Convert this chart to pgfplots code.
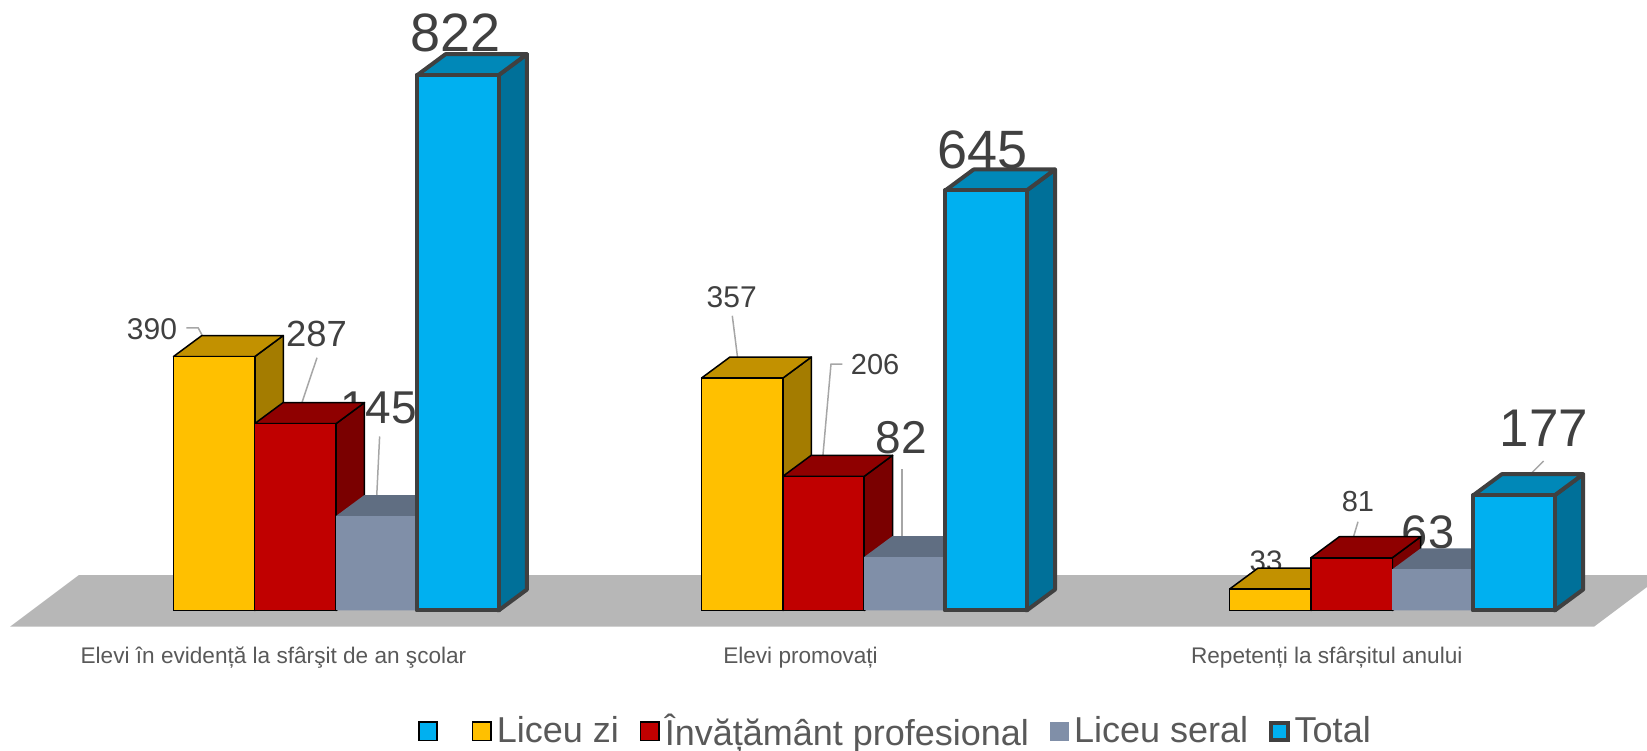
\documentclass[border=0pt]{standalone}
\usepackage{pgfplots}
\pgfplotsset{compat=1.18}
\usepackage{pgfplotstable}
\usepackage{fontspec}
\setmainfont{Liberation Sans}

\definecolor{cyel}{HTML}{FFC000}
\definecolor{cyelT}{HTML}{C29100}
\definecolor{cyelS}{HTML}{A47C00}
\definecolor{cred}{HTML}{C00000}
\definecolor{credT}{HTML}{8F0000}
\definecolor{credS}{HTML}{7A0000}
\definecolor{cgry}{HTML}{808FA8}
\definecolor{cgryT}{HTML}{606E82}
\definecolor{cgryS}{HTML}{56637A}
\definecolor{cblu}{HTML}{00B0F0}
\definecolor{cbluT}{HTML}{0088B8}
\definecolor{cbluS}{HTML}{007099}
\definecolor{cedge}{HTML}{404040}
\definecolor{cfloor}{HTML}{B7B7B7}
\definecolor{ctext}{HTML}{404040}
\definecolor{clab}{HTML}{595959}
\definecolor{clead}{HTML}{A6A6A6}

\pgfplotstableread{
g zi prof seral total
0 390 287 145 822
1 357 206 82 645
2 33 81 63 177
}\datatable

% 3D bar (side, top and front faces), drawn as a mark at the top centre of the bar
\newcommand\defprism[7]{%
 \pgfdeclareplotmark{#1}{%
  \begingroup
  \pgfkeys{/pgf/fpu=false}%
  \pgfmathsetmacro\prismh{\barval*0.3256}%
  \pgfsetlinewidth{#5}\pgfsetroundjoin
  \pgfsetstrokecolor{#4}%
  \pgfsetfillcolor{#3}%
  \pgfpathmoveto{\pgfpoint{20.35pt}{0pt}}%
  \pgfpathlineto{\pgfpoint{34.55pt}{10.5pt}}%
  \pgfpathlineto{\pgfpoint{34.55pt}{10.5pt-\prismh pt}}%
  \pgfpathlineto{\pgfpoint{20.35pt}{-\prismh pt}}%
  \pgfpathclose
  \pgfusepath{#6}%
  \pgfsetfillcolor{#2}%
  \pgfpathmoveto{\pgfpoint{-20.35pt}{0pt}}%
  \pgfpathlineto{\pgfpoint{20.35pt}{0pt}}%
  \pgfpathlineto{\pgfpoint{34.55pt}{10.5pt}}%
  \pgfpathlineto{\pgfpoint{-6.15pt}{10.5pt}}%
  \pgfpathclose
  \pgfusepath{#6}%
  \pgfsetfillcolor{#7}%
  \pgfpathmoveto{\pgfpoint{-20.35pt}{0pt}}%
  \pgfpathlineto{\pgfpoint{20.35pt}{0pt}}%
  \pgfpathlineto{\pgfpoint{20.35pt}{-\prismh pt}}%
  \pgfpathlineto{\pgfpoint{-20.35pt}{-\prismh pt}}%
  \pgfpathclose
  \pgfusepath{#6}%
  \endgroup
 }}
\defprism{prismY}{cyelT}{cyelS}{black}{0.75pt}{fill,stroke}{cyel}
\defprism{prismR}{credT}{credS}{black}{0.75pt}{fill,stroke}{cred}
\defprism{prismG}{cgryT}{cgryS}{black}{0pt}{fill}{cgry}
\defprism{prismB}{cbluT}{cbluS}{cedge}{2pt}{fill,stroke}{cblu}

\pgfplotsset{
  faces/.style={scatter, only marks, mark=#1, forget plot,
    visualization depends on={rawy \as \barval},
    scatter/@pre marker code/.code={}, scatter/@post marker code/.code={}},
  front/.style={ybar, bar width=0.1541, forget plot, line join=round},
}
\newcommand\vlab[4]{\node[text=ctext, inner sep=0pt, anchor=base,
  font=\fontsize{#1pt}{#1pt}\selectfont] at (axis cs:#2,#3) {#4};}

\begin{document}
\begin{tikzpicture}
\useasboundingbox (0,0) rectangle (823.5pt,375pt);
\begin{axis}[
  at={(0pt,0pt)}, anchor=south west,
  x=264.05pt, y=0.3256pt,
  xmin=-0.63625, xmax=2.48248, ymin=-214.22, ymax=937.5,
  hide axis, clip=false,
  legend style={at={(0.2538,0.0248)}, anchor=west, draw=none, fill=none,
    inner sep=0pt, outer sep=0pt, legend columns=-1,
    font=\fontsize{18pt}{20pt}\selectfont, text=clab,
    nodes={inner sep=2.5pt},
    /tikz/every even column/.append style={column sep=8pt}},
  legend cell align=left,
]
% floor
\addplot[fill=cfloor, draw=none, forget plot] coordinates
  {(-0.6173,-24.9) (2.382,-24.9) (2.5128,54.5) (-0.4867,54.5) (-0.6173,-24.9)};

% front faces (plain bars)
\addplot[front, bar shift=-0.2307, fill=cyel, draw=black, line width=0.75pt]
  table[x=g, y=zi] {\datatable};
\addplot[front, bar shift=-0.0769, fill=cred, draw=black, line width=0.75pt]
  table[x=g, y=prof] {\datatable};
\addplot[front, bar shift=0.0769, fill=cgry, draw=none]
  table[x=g, y=seral] {\datatable};
\addplot[front, bar shift=0.2307, fill=cblu, draw=cedge, line width=2pt]
  table[x=g, y=total] {\datatable};

% 3D bars, left to right
\addplot[faces=prismY] table[x expr=\thisrow{g}-0.2307, y=zi] {\datatable};
\addplot[faces=prismR] table[x expr=\thisrow{g}-0.0769, y=prof] {\datatable};
\addplot[faces=prismG] table[x expr=\thisrow{g}+0.0769, y=seral] {\datatable};
\addplot[faces=prismB] table[x expr=\thisrow{g}+0.2307, y=total] {\datatable};

% legend
\addlegendimage{legend image code/.code={\draw[fill=cblu,draw=black,line width=0.75pt] (0pt,-4.6pt) rectangle (9.2pt,4.6pt);}}
\addlegendentry{\hspace*{4pt}}
\addlegendimage{legend image code/.code={\draw[fill=cyel,draw=black,line width=0.75pt] (0pt,-4.6pt) rectangle (9.2pt,4.6pt);}}
\addlegendentry{Liceu zi}
\addlegendimage{legend image code/.code={\draw[fill=cred,draw=black,line width=0.75pt] (0pt,-4.6pt) rectangle (9.2pt,4.6pt);}}
\addlegendentry{Învățământ profesional}
\addlegendimage{legend image code/.code={\fill[cgry] (0pt,-4.6pt) rectangle (9.2pt,4.6pt);}}
\addlegendentry{Liceu seral}
\addlegendimage{legend image code/.code={\draw[fill=cblu,draw=cedge,line width=2pt] (0.5pt,-4.1pt) rectangle (8.7pt,4.1pt);}}
\addlegendentry{Total}

% leader lines
\draw[clead, line width=0.75pt] (axis cs:-0.2833,434.1) -- (axis cs:-0.2610,434.1) -- (axis cs:-0.2325,390.8);
\draw[clead, line width=0.75pt] (axis cs:-0.0360,388.2) -- (axis cs:-0.0776,287.6);
\draw[clead, line width=0.75pt] (axis cs:0.0826,267.2) -- (axis cs:0.0752,144.2);
\draw[clead, line width=0.75pt] (axis cs:0.7504,452.6) -- (axis cs:0.7650,358.5);
\draw[clead, line width=0.75pt] (axis cs:0.9587,378.5) -- (axis cs:0.9373,378.5) -- (axis cs:0.9184,205.0);
\draw[clead, line width=0.75pt] (axis cs:1.0718,216.8) -- (axis cs:1.0718,81.4);
\draw[clead, line width=0.75pt] (axis cs:1.9352,136.3) -- (axis cs:1.9151,81.7);
\draw[clead, line width=0.75pt] (axis cs:2.2867,229.5) -- (axis cs:2.2221,177.3);

% value labels
\vlab{15}{-0.3484}{416.2}{390}
\vlab{18.2}{-0.0371}{405.3}{287}
\vlab{23}{0.0807}{287.9}{145}
\vlab{27}{0.2272}{857.7}{822}
\vlab{15}{0.7493}{465.2}{357}
\vlab{14.5}{1.0208}{362.7}{206}
\vlab{23}{1.0703}{240.4}{82}
\vlab{27}{1.2251}{679.1}{645}
\vlab{14.8}{1.7610}{59.6}{33}
\vlab{14.5}{1.9351}{151.7}{81}
\vlab{23.5}{2.0678}{95.5}{63}
\vlab{26.5}{2.2875}{251.5}{177}

% category labels
\node[text=clab, anchor=base, inner sep=0pt, font=\fontsize{11.3pt}{13pt}\selectfont]
  at (axis cs:-0.1184,-82) {Elevi în evidență la sfârşit de an şcolar};
\node[text=clab, anchor=base, inner sep=0pt, font=\fontsize{11.3pt}{13pt}\selectfont]
  at (axis cs:0.8796,-82) {Elevi promovați};
\node[text=clab, anchor=base, inner sep=0pt, font=\fontsize{11.3pt}{13pt}\selectfont]
  at (axis cs:1.876,-82) {Repetenți la sfârșitul anului};
\end{axis}
\end{tikzpicture}
\end{document}
